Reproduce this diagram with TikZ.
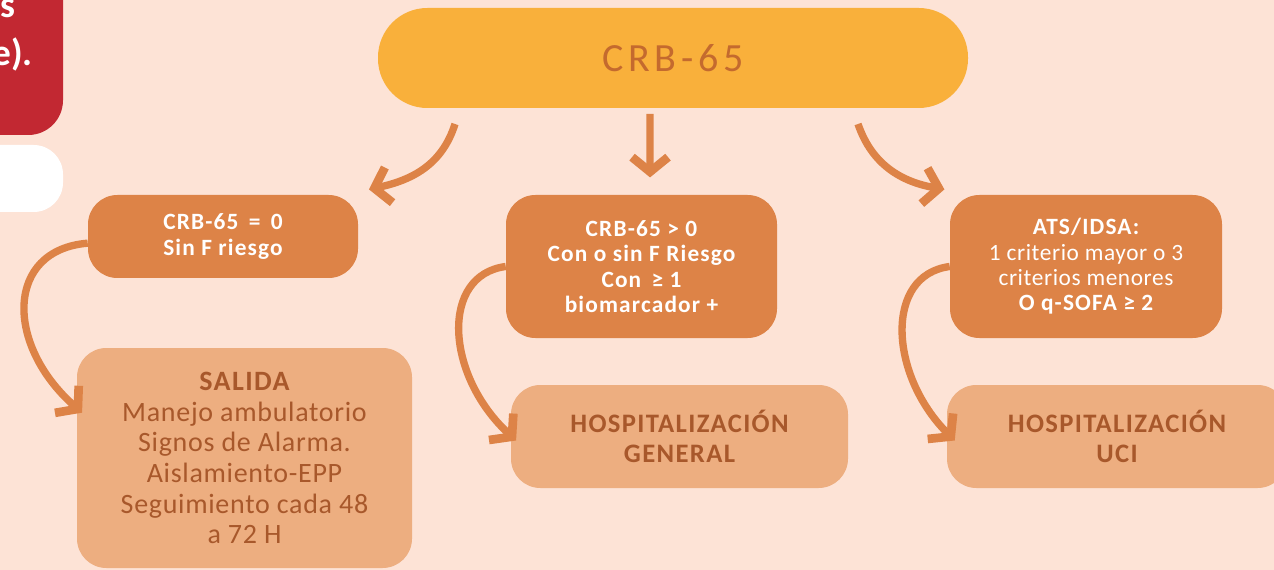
\documentclass[tikz,border=0pt]{standalone}
\usepackage{fontspec}
\setmainfont{Carlito}
\newfontfamily\titlefont[LetterSpace=12]{Carlito}
\newfontfamily\boldsp[LetterSpace=5]{Carlito}
\newfontfamily\regsp[LetterSpace=2.5]{Carlito}
\usetikzlibrary{arrows.meta}
\definecolor{bg}{HTML}{FDE3D6}
\definecolor{yel}{HTML}{F9B03B}
\definecolor{ttl}{HTML}{C46A2E}
\definecolor{dark}{HTML}{DD8347}
\definecolor{light}{HTML}{EDAE80}
\definecolor{ltxt}{HTML}{A8582B}
\definecolor{redb}{HTML}{C22832}
\tikzset{
  darkbox/.style={fill=dark, rounded corners=22pt, text=white, font=\boldsp\bfseries\fontsize{17.5}{19}\selectfont, align=center},
  lightbox/.style={fill=light, rounded corners=22pt, text=ltxt, align=center},
  conn/.style={draw=dark, line width=5.5pt, -{Straight Barb[length=11pt,width=27pt,line width=6.5pt]}},
}
\begin{document}
\begin{tikzpicture}[x=0.75pt,y=-0.75pt]
\useasboundingbox (0,0) rectangle (1274,570);
\clip (0,0) rectangle (1274,570);
\fill[bg] (0,0) rectangle (1274,570);
% partial boxes at left edge
\fill[redb, rounded corners=26pt] (-40,-40) rectangle (63,135);
\node[anchor=base east, text=white, font=\bfseries\fontsize{28}{30}\selectfont, inner sep=0] (rs) at (16,18) {s};
\node[anchor=base east, text=white, font=\bfseries\fontsize{28}{30}\selectfont, inner sep=0] (re) at (33,66) {e).};
\fill[white, rounded corners=22pt] (-40,145) rectangle (63,212);
% title
\node[fill=yel, rounded corners=37pt, minimum width=590*0.75pt, minimum height=100*0.75pt, text=ttl, font=\titlefont\fontsize{30}{32}\selectfont] (top) at (673,58) {CRB-65};
% level 1 boxes
\node[darkbox, minimum width=270*0.75pt, minimum height=83*0.75pt] (b1) at (223,236.5) {CRB-65 \,=\, 0\\Sin F riesgo};
\node[darkbox, minimum width=271*0.75pt, minimum height=143*0.75pt] (b2) at (641.5,266.5) {CRB-65 > 0\\Con o sin F Riesgo\\Con \,≥ 1\\biomarcador +};
\node[darkbox, minimum width=272*0.75pt, minimum height=143*0.75pt] (b3) at (1086,266.5) {ATS/IDSA:\\{\regsp\mdseries 1 criterio mayor o 3}\\{\regsp\mdseries criterios menores}\\O q-SOFA ≥ 2};
% level 2 boxes
\node[lightbox, minimum width=335*0.75pt, minimum height=220*0.75pt, font=\regsp\fontsize{21}{23}\selectfont] (b4) at (244.5,458) {{\boldsp\bfseries SALIDA}\\Manejo ambulatorio\\Signos de Alarma.\\Aislamiento-EPP\\Seguimiento cada 48\\a 72 H};
\node[lightbox, minimum width=337*0.75pt, minimum height=103*0.75pt, font=\boldsp\bfseries\fontsize{20}{22}\selectfont] (b5) at (679.5,436.5) {HOSPITALIZACIÓN\\GENERAL};
\node[lightbox, minimum width=340*0.75pt, minimum height=103*0.75pt, font=\boldsp\bfseries\fontsize{20}{22}\selectfont] (b6) at (1117,436.5) {HOSPITALIZACIÓN\\UCI};
% connectors
\coordinate (t1) at (455,124);
\coordinate (t2) at (650,114);
\coordinate (t3) at (858,124);
\draw[conn] (t1) .. controls (442,165) and (412,180) .. ([xshift=8pt,yshift=4pt]b1.north east);
\draw[conn] (t2) -- ([xshift=6.4pt,yshift=13pt]b2.north);
\draw[conn] (t3) .. controls (872,165) and (902,182) .. ([xshift=-4pt,yshift=4pt]b3.north west);
\draw[conn] ([yshift=-5pt]b1.west) .. controls (5,250) and (5,345) .. ([xshift=4pt,yshift=34pt]b4.west);
\draw[conn] ([yshift=0pt]b2.west) .. controls (440,275) and (445,375) .. ([xshift=4pt,yshift=-3pt]b5.west);
\draw[conn] ([yshift=0pt]b3.west) .. controls (884,275) and (889,375) .. ([xshift=6pt,yshift=-3pt]b6.west);
\end{tikzpicture}
\end{document}
